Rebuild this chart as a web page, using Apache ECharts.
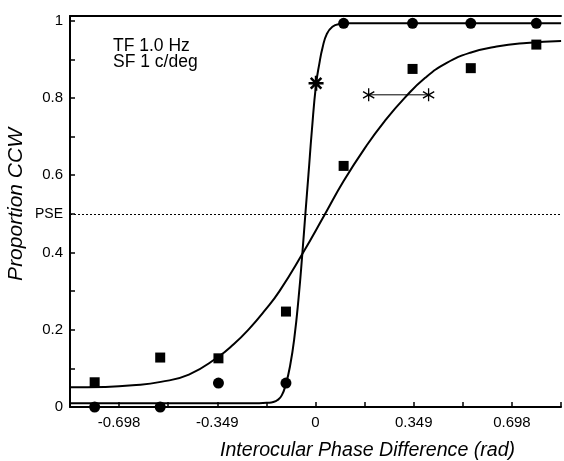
<!DOCTYPE html>
<html>
<head>
<meta charset="utf-8">
<script src="https://cdn.jsdelivr.net/npm/echarts@6/dist/echarts.min.js"></script>
<style>
html,body{margin:0;padding:0;background:#fff;}
#c{width:564px;height:461px;}
</style>
</head>
<body>
<div id="c"></div>
<script>
// ---- data ----
const stimX = [-0.785, -0.552, -0.345, -0.105, 0.10, 0.345, 0.552, 0.785];
const circleY = [0, 0, 0.062, 0.062, 0.993, 0.993, 0.993, 0.993];
const squareY = [0.064, 0.128, 0.126, 0.247, 0.624, 0.875, 0.877, 0.938];

const steepFitX = [-0.873, -0.20, -0.17, -0.15, -0.135, -0.12, -0.105, -0.09, -0.075, -0.06, -0.047, -0.036, -0.025, -0.013, 0.002, 0.014, 0.025, 0.04, 0.06, 0.085, 0.12, 0.873];
const steepFitY = [0.010, 0.010, 0.011, 0.013, 0.018, 0.030, 0.060, 0.108, 0.180, 0.283, 0.395, 0.50, 0.602, 0.715, 0.835, 0.89, 0.93, 0.965, 0.984, 0.991, 0.993, 0.993];

const shallowFitX = [-0.873, -0.75, -0.65, -0.55, -0.45, -0.349, -0.29, -0.235, -0.18, -0.128, -0.047, 0.032, 0.10, 0.18, 0.246, 0.317, 0.39, 0.465, 0.55, 0.644, 0.75, 0.873];
const shallowFitY = [0.051, 0.052, 0.056, 0.065, 0.084, 0.128, 0.163, 0.203, 0.250, 0.300, 0.396, 0.497, 0.585, 0.675, 0.740, 0.800, 0.852, 0.890, 0.917, 0.933, 0.942, 0.947];

const rangeX = [0.189, 0.402];
const rangeY = 0.808;
const boldStar = [0.002, 0.838];
const pseLevel = 0.5;

const xTickLabelValues = [-0.698, -0.349, 0, 0.349, 0.698];
const xTickLabels = ['-0.698', '-0.349', '0', '0.349', '0.698'];
const yTickLabelValues = [0, 0.2, 0.4, 0.5, 0.6, 0.8, 1];
const yTickLabels = ['0', '0.2', '0.4', '{p|PSE}', '0.6', '0.8', '1'];

const legendText = ['TF 1.0 Hz', 'SF 1 c/deg'];
const xTitle = 'Interocular Phase Difference (rad)';
const yTitle = 'Proportion CCW';
// --------------------------------------

function starPath(w, n) {
  const L = 10;
  const arms = n === 4 ? [90, 0, 45, 135] : [90, 30, 150];
  let d = '';
  arms.forEach(a => {
    const t = a * Math.PI / 180;
    const ex = L * Math.cos(t), ey = L * Math.sin(t);
    const nx = -w * Math.sin(t), ny = w * Math.cos(t);
    const pts = [[ex + nx, ey + ny], [ex - nx, ey - ny], [-ex - nx, -ey - ny], [-ex + nx, -ey + ny]];
    const area = pts.reduce((s, p, i) => { const q = pts[(i + 1) % 4]; return s + p[0] * q[1] - q[0] * p[1]; }, 0);
    if (area > 0) pts.reverse();
    d += 'M' + pts.map(p => p[0].toFixed(3) + ',' + p[1].toFixed(3)).join('L') + 'Z';
  });
  return 'path://' + d;
}

const step = Math.PI / 18;
const zip = (a, b) => a.map((v, i) => [v, b[i]]);

const chart = echarts.init(document.getElementById('c'), null, {renderer: 'canvas'});
const fontFam = '"Liberation Sans", Arial, Helvetica, sans-serif';

chart.setOption({
  animation: false,
  backgroundColor: '#fff',
  textStyle: {fontFamily: fontFam},
  grid: {left: 70, right: 2, top: 16, bottom: 54, containLabel: false},
  xAxis: [{
    type: 'value',
    min: -5 * step, max: 5 * step, interval: step,
    axisLine: {show: true, onZero: false, lineStyle: {color: '#000', width: 2}},
    axisTick: {show: true, inside: true, length: 5, lineStyle: {color: '#000', width: 1.5}},
    splitLine: {show: false},
    axisLabel: {
      margin: 8, color: '#000', fontSize: 15, fontFamily: fontFam,
      showMinLabel: true, showMaxLabel: true,
      formatter: v => {
        const i = xTickLabelValues.findIndex(t => Math.abs(t - v) < 0.003);
        return i >= 0 ? xTickLabels[i] : '';
      }
    }
  }, {
    type: 'value', position: 'top',
    min: -5 * step, max: 5 * step,
    axisLine: {show: true, onZero: false, lineStyle: {color: '#000', width: 2}},
    axisTick: {show: false}, axisLabel: {show: false}, splitLine: {show: false}
  }],
  yAxis: {
    type: 'value', min: 0, max: 1.012, interval: 0.1,
    axisLine: {show: true, onZero: false, lineStyle: {color: '#000', width: 2}},
    axisTick: {show: true, inside: true, length: 5, lineStyle: {color: '#000', width: 1.5}},
    splitLine: {show: false},
    axisLabel: {
      margin: 7, color: '#000', fontSize: 15, fontFamily: fontFam,
      rich: {p: {fontSize: 14, color: '#000', fontFamily: fontFam}},
      formatter: v => {
        const i = yTickLabelValues.findIndex(t => Math.abs(t - v) < 1e-6);
        return i >= 0 ? yTickLabels[i] : '';
      }
    }
  },
  series: [
    {
      type: 'line', data: zip(steepFitX, steepFitY), showSymbol: false,
      smooth: 0.5,
      lineStyle: {color: '#000', width: 2}, z: 2
    },
    {
      type: 'line', data: zip(shallowFitX, shallowFitY), showSymbol: false,
      smooth: 0.5,
      lineStyle: {color: '#000', width: 2}, z: 2,
      markLine: {
        silent: true, symbol: 'none', label: {show: false},
        lineStyle: {color: '#000', width: 1, type: [2, 2]},
        data: [{yAxis: pseLevel}]
      }
    },
    {
      type: 'scatter', data: zip(stimX, circleY), symbol: 'circle', symbolSize: 11,
      itemStyle: {color: '#000', opacity: 1}, clip: false, z: 3
    },
    {
      type: 'scatter', data: zip(stimX, squareY), symbol: 'rect', symbolSize: 10,
      itemStyle: {color: '#000', opacity: 1}, clip: false, z: 3
    },
    {
      type: 'line', data: rangeX.map(x => [x, rangeY]), showSymbol: true,
      symbol: starPath(1.0, 3), symbolSize: 13, symbolKeepAspect: true,
      itemStyle: {color: '#000', opacity: 1}, lineStyle: {color: '#000', width: 1}, z: 4
    },
    {
      type: 'scatter', data: [boldStar], symbol: starPath(1.7, 4), symbolSize: 15, symbolKeepAspect: true,
      itemStyle: {color: '#000', opacity: 1}, z: 4
    }
  ],
  graphic: [
    {type: 'text', left: 113, top: 37, style: {text: legendText.join('\n'), font: '17.5px ' + fontFam, fill: '#000', lineHeight: 16}},
    {type: 'text', left: 220, top: 441, style: {text: xTitle, font: 'italic 19.6px ' + fontFam, fill: '#000'}},
    {type: 'text', left: 6, top: 128, rotation: Math.PI / 2, style: {text: yTitle, font: 'italic 21px ' + fontFam, fill: '#000'}}
  ]
});
</script>
</body>
</html>
